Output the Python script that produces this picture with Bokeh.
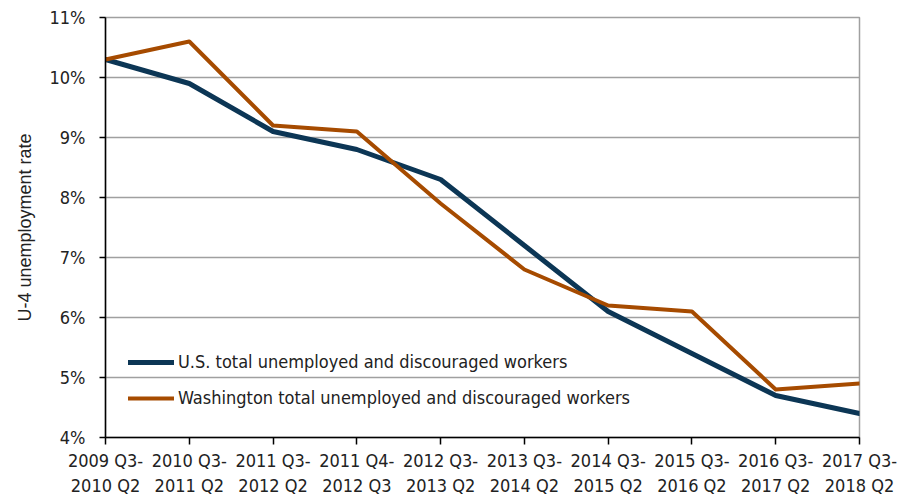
from bokeh.plotting import figure
from bokeh.models import FixedTicker, PrintfTickFormatter, Range1d, Legend, LegendItem
from bokeh.embed import file_html
from bokeh.resources import INLINE

periods = ["2009 Q3-\n2010 Q2", "2010 Q3-\n2011 Q2", "2011 Q3-\n2012 Q2", "2011 Q4-\n2012 Q3",
           "2012 Q3-\n2013 Q2", "2013 Q3-\n2014 Q2", "2014 Q3-\n2015 Q2", "2015 Q3-\n2016 Q2",
           "2016 Q3-\n2017 Q2", "2017 Q3-\n2018 Q2"]
us_rate = [10.3, 9.9, 9.1, 8.8, 8.3, 7.2, 6.1, 5.4, 4.7, 4.4]
wa_rate = [10.3, 10.6, 9.2, 9.1, 7.9, 6.8, 6.2, 6.1, 4.8, 4.9]
y_ticks = [4, 5, 6, 7, 8, 9, 10, 11]

FONT = "'Liberation Sans Narrow', 'DejaVu Sans Condensed', 'Arial Narrow', sans-serif"
x = list(range(len(periods)))

p = figure(width=900, height=498, output_backend="svg", toolbar_location=None,
           x_range=Range1d(0, len(periods) - 1), y_range=Range1d(4, 11),
           min_border_left=105, min_border_right=41, min_border_top=17, min_border_bottom=61)
p.background_fill_color = "white"
p.outline_line_color = "#A0A0A0"
p.outline_line_width = 1.5

r_us = p.line(x, us_rate, line_color="#0C3655", line_width=5, line_join="round", line_cap="round")
r_wa = p.line(x, wa_rate, line_color="#A64B00", line_width=4, line_join="round", line_cap="round")

p.xaxis.ticker = FixedTicker(ticks=x)
p.xaxis.major_label_overrides = {i: lab for i, lab in enumerate(periods)}
p.yaxis.ticker = FixedTicker(ticks=y_ticks)
p.yaxis.formatter = PrintfTickFormatter(format="%d%%")

for ax in (p.xaxis[0], p.yaxis[0]):
    ax.axis_line_color = "black"
    ax.axis_line_width = 1.5
    ax.major_tick_line_color = "black"
    ax.major_tick_line_width = 1.5
    ax.major_tick_in = 0
    ax.major_tick_out = 7
    ax.minor_tick_line_color = None
    ax.major_label_text_font = FONT
    ax.major_label_text_font_size = "18px"
    ax.major_label_text_color = "#222222"
p.yaxis.major_tick_out = 6
p.xaxis.major_label_standoff = 5
p.yaxis.major_label_standoff = 14

p.yaxis.axis_label = "U-4 unemployment rate"
p.yaxis.axis_label_text_font = "Liberation Sans"
p.yaxis.axis_label_text_font_size = "18px"
p.yaxis.axis_label_text_font_style = "normal"
p.yaxis.axis_label_text_color = "#222222"
p.yaxis.axis_label_standoff = 12

p.xgrid.grid_line_color = None
p.ygrid.ticker = FixedTicker(ticks=y_ticks)
p.ygrid.grid_line_color = "#A0A0A0"
p.ygrid.grid_line_width = 1.5

legend = Legend(items=[LegendItem(label="U.S. total unemployed and discouraged workers", renderers=[r_us]),
                       LegendItem(label="Washington total unemployed and discouraged workers", renderers=[r_wa])],
                location=(23, 29))
legend.background_fill_alpha = 0
legend.border_line_color = None
legend.padding = 0
legend.margin = 0
legend.spacing = 15
legend.glyph_width = 46
legend.glyph_height = 20
legend.label_height = 20
legend.label_standoff = 4
legend.label_text_font = FONT
legend.label_text_font_size = "18px"
legend.label_text_color = "#222222"
p.add_layout(legend, "center")

open("out.html", "w").write(file_html(p, INLINE))
